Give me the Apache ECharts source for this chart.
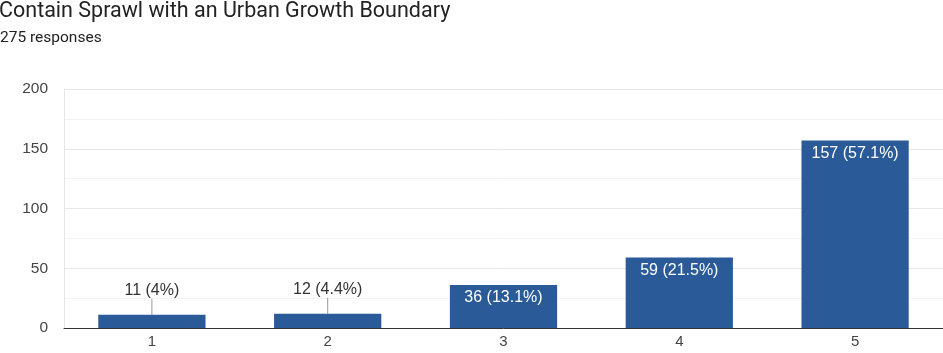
<!DOCTYPE html>
<html>
<head>
<meta charset="utf-8">
<script src="https://cdn.jsdelivr.net/npm/echarts@6/dist/echarts.min.js"></script>
<style>
  html, body { margin: 0; padding: 0; background: #fff; }
  #chart { width: 943px; height: 353px; }
</style>
</head>
<body>
<div id="chart"></div>
<script>
const categories = ["1", "2", "3", "4", "5"]
const counts = [11, 12, 36, 59, 157]
const percents = ["4%", "4.4%", "13.1%", "21.5%", "57.1%"]
const yTicks = [0, 50, 100, 150, 200]

const barColor = "#2a5a97"
const labelFont = "Arial, 'Liberation Sans', sans-serif"

const chart = echarts.init(document.getElementById("chart"))

// 小柱子的标签放在上面，带引线
const isSmall = v => v < 20
const barData = counts.map(v => ({
    value: v,
    label: isSmall(v)
        ? { position: "top", distance: 2, color: "#333" }
        : { position: "insideTop", distance: 5, color: "#fff" },
}))

chart.setOption({
    animation: false,
    title: [
        {
            text: "Contain Sprawl with an Urban Growth Boundary",
            left: -1,
            top: 1,
            padding: 0,
            textStyle: { fontFamily: "Roboto", fontSize: 21.5, fontWeight: "normal", color: "#222" },
        },
        {
            text: "275 responses",
            left: 0,
            top: 30,
            padding: 0,
            textStyle: { fontFamily: "Roboto", fontSize: 15.5, fontWeight: "normal", color: "#222" },
        },
    ],
    grid: { left: 64, right: 0, top: 89, bottom: 25 },
    xAxis: {
        type: "category",
        data: categories,
        axisLine: { show: true, lineStyle: { color: "#333", width: 1 } },
        axisTick: { show: false },
        axisLabel: { fontFamily: labelFont, fontSize: 15, color: "#444", margin: 6 },
    },
    yAxis: {
        type: "value",
        min: yTicks[0],
        max: yTicks[yTicks.length - 1],
        interval: 50,
        axisLine: { show: true, lineStyle: { color: "#e6e6e6" } },
        axisTick: { show: false },
        axisLabel: { fontFamily: labelFont, fontSize: 15.5, color: "#444", margin: 16 },
        splitLine: { lineStyle: { color: "#e8e8e8" } },
        minorTick: { show: false, splitNumber: 2 },
        minorSplitLine: { show: true, lineStyle: { color: "#f4f4f4" } },
    },
    series: [
        {
            type: "bar",
            data: barData,
            barWidth: "61%",
            itemStyle: { color: barColor },
            label: {
                show: true,
                fontFamily: labelFont,
                fontSize: 16,
                formatter: p => p.value + " (" + percents[p.dataIndex] + ")",
            },
            labelLayout: p => (isSmall(counts[p.dataIndex]) ? { dy: -14 } : {}),
            labelLine: { show: true, lineStyle: { color: "#999", width: 1 } },
        },
    ],
})
</script>
</body>
</html>
